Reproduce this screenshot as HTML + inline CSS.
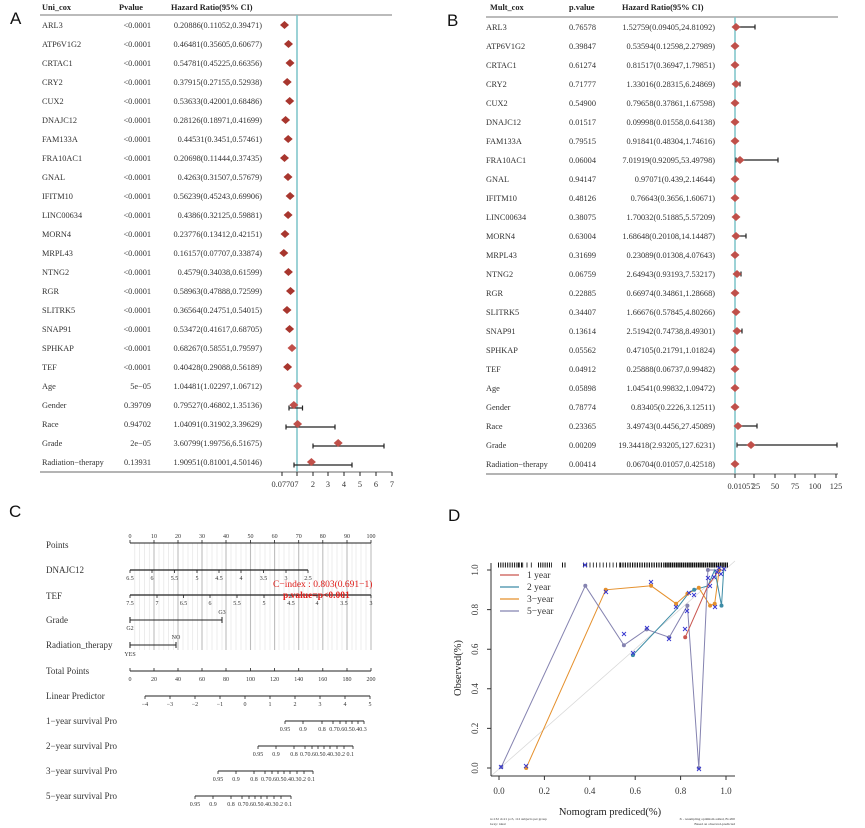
<!DOCTYPE html>
<html><head><meta charset="utf-8"><style>
html,body{margin:0;padding:0;background:#fff;}
svg{display:block;}
.t{font-family:"Liberation Serif",serif;font-size:8.3px;fill:#333;}
.h{font-family:"Liberation Serif",serif;font-size:8.3px;font-weight:bold;fill:#222;}
.L{font-family:"Liberation Sans",sans-serif;font-size:17px;fill:#111;}
.c{font-family:"Liberation Serif",serif;font-size:9px;fill:#333;}
.s{font-family:"Liberation Serif",serif;font-size:6px;fill:#333;}
</style></head><body>
<svg width="865" height="828" viewBox="0 0 865 828" xmlns="http://www.w3.org/2000/svg">
<defs>
<path id="d" d="M-4.5 0L0-4 4.5 0 0 4Z" fill="#c0504a"/>
<path id="dk" d="M-4.5 0L0-4 4.5 0 0 4Z" fill="#a8362e"/>
</defs>
<!-- ================= A ================= -->
<text class="L" x="10" y="24">A</text>
<text class="h" x="42" y="10">Uni_cox</text>
<text class="h" x="119" y="10">Pvalue</text>
<text class="h" x="171" y="10">Hazard Ratio(95% CI)</text>
<line x1="40" y1="15" x2="392" y2="15" stroke="#777" stroke-width="1"/>
<line x1="297" y1="15" x2="297" y2="472" stroke="#7cc4c8" stroke-width="1.5"/>
<g class="t">
<text x="42" y="28">ARL3</text><text x="42" y="47">ATP6V1G2</text><text x="42" y="66">CRTAC1</text><text x="42" y="85">CRY2</text><text x="42" y="104">CUX2</text><text x="42" y="123">DNAJC12</text><text x="42" y="142">FAM133A</text><text x="42" y="161">FRA10AC1</text><text x="42" y="180">GNAL</text><text x="42" y="199">IFITM10</text><text x="42" y="218">LINC00634</text><text x="42" y="237">MORN4</text><text x="42" y="256">MRPL43</text><text x="42" y="275">NTNG2</text><text x="42" y="294">RGR</text><text x="42" y="313">SLITRK5</text><text x="42" y="332">SNAP91</text><text x="42" y="351">SPHKAP</text><text x="42" y="370">TEF</text><text x="42" y="389">Age</text><text x="42" y="408">Gender</text><text x="42" y="427">Race</text><text x="42" y="446">Grade</text><text x="42" y="465">Radiation−therapy</text>
</g>
<g class="t" text-anchor="end">
<text x="151" y="28">&lt;0.0001</text><text x="151" y="47">&lt;0.0001</text><text x="151" y="66">&lt;0.0001</text><text x="151" y="85">&lt;0.0001</text><text x="151" y="104">&lt;0.0001</text><text x="151" y="123">&lt;0.0001</text><text x="151" y="142">&lt;0.0001</text><text x="151" y="161">&lt;0.0001</text><text x="151" y="180">&lt;0.0001</text><text x="151" y="199">&lt;0.0001</text><text x="151" y="218">&lt;0.0001</text><text x="151" y="237">&lt;0.0001</text><text x="151" y="256">&lt;0.0001</text><text x="151" y="275">&lt;0.0001</text><text x="151" y="294">&lt;0.0001</text><text x="151" y="313">&lt;0.0001</text><text x="151" y="332">&lt;0.0001</text><text x="151" y="351">&lt;0.0001</text><text x="151" y="370">&lt;0.0001</text><text x="151" y="389">5e−05</text><text x="151" y="408">0.39709</text><text x="151" y="427">0.94702</text><text x="151" y="446">2e−05</text><text x="151" y="465">0.13931</text>
</g>
<g class="t" text-anchor="end">
<text x="262" y="28">0.20886(0.11052,0.39471)</text><text x="262" y="47">0.46481(0.35605,0.60677)</text><text x="262" y="66">0.54781(0.45225,0.66356)</text><text x="262" y="85">0.37915(0.27155,0.52938)</text><text x="262" y="104">0.53633(0.42001,0.68486)</text><text x="262" y="123">0.28126(0.18971,0.41699)</text><text x="262" y="142">0.44531(0.3451,0.57461)</text><text x="262" y="161">0.20698(0.11444,0.37435)</text><text x="262" y="180">0.4263(0.31507,0.57679)</text><text x="262" y="199">0.56239(0.45243,0.69906)</text><text x="262" y="218">0.4386(0.32125,0.59881)</text><text x="262" y="237">0.23776(0.13412,0.42151)</text><text x="262" y="256">0.16157(0.07707,0.33874)</text><text x="262" y="275">0.4579(0.34038,0.61599)</text><text x="262" y="294">0.58963(0.47888,0.72599)</text><text x="262" y="313">0.36564(0.24751,0.54015)</text><text x="262" y="332">0.53472(0.41617,0.68705)</text><text x="262" y="351">0.68267(0.58551,0.79597)</text><text x="262" y="370">0.40428(0.29088,0.56189)</text><text x="262" y="389">1.04481(1.02297,1.06712)</text><text x="262" y="408">0.79527(0.46802,1.35136)</text><text x="262" y="427">1.04091(0.31902,3.39629)</text><text x="262" y="446">3.60799(1.99756,6.51675)</text><text x="262" y="465">1.90951(0.81001,4.50146)</text>
</g>
<g stroke="#222" stroke-width="1.2">
<line x1="289" y1="408" x2="302.5" y2="408"/><line x1="289" y1="405.5" x2="289" y2="410.5"/><line x1="302.5" y1="405.5" x2="302.5" y2="410.5"/>
<line x1="286" y1="427" x2="335" y2="427"/><line x1="286" y1="424.5" x2="286" y2="429.5"/><line x1="335" y1="424.5" x2="335" y2="429.5"/>
<line x1="313" y1="446" x2="384" y2="446"/><line x1="313" y1="443.5" x2="313" y2="448.5"/><line x1="384" y1="443.5" x2="384" y2="448.5"/>
<line x1="294" y1="465" x2="352" y2="465"/><line x1="294" y1="462.5" x2="294" y2="467.5"/><line x1="352" y1="462.5" x2="352" y2="467.5"/>
</g>
<use href="#dk" x="284.5" y="25"/><use href="#dk" x="288.5" y="44"/><use href="#dk" x="290" y="63"/><use href="#dk" x="287.2" y="82"/><use href="#dk" x="289.7" y="101"/><use href="#dk" x="285.6" y="120"/><use href="#dk" x="288.2" y="139"/><use href="#dk" x="284.5" y="158"/><use href="#dk" x="288" y="177"/><use href="#dk" x="290.1" y="196"/><use href="#dk" x="288.1" y="215"/><use href="#dk" x="285" y="234"/><use href="#dk" x="283.8" y="253"/><use href="#dk" x="288.4" y="272"/><use href="#dk" x="290.5" y="291"/><use href="#dk" x="287" y="310"/><use href="#dk" x="289.6" y="329"/><use href="#d" x="292" y="348"/><use href="#dk" x="287.6" y="367"/><use href="#d" x="297.7" y="386"/><use href="#d" x="293.8" y="405"/><use href="#d" x="297.6" y="424"/><use href="#d" x="338.2" y="443"/><use href="#d" x="311.4" y="462"/>
<line x1="40" y1="472" x2="392" y2="472" stroke="#888" stroke-width="1.2"/>
<g stroke="#222" stroke-width="1"><line x1="282" y1="472" x2="282" y2="476"/><line x1="297" y1="472" x2="297" y2="476"/><line x1="313" y1="472" x2="313" y2="476"/><line x1="328" y1="472" x2="328" y2="476"/><line x1="344" y1="472" x2="344" y2="476"/><line x1="360" y1="472" x2="360" y2="476"/><line x1="376" y1="472" x2="376" y2="476"/><line x1="392" y1="472" x2="392" y2="476"/></g>
<g class="t" text-anchor="middle"><text x="285" y="487">0.07707</text><text x="313" y="487">2</text><text x="328" y="487">3</text><text x="344" y="487">4</text><text x="360" y="487">5</text><text x="376" y="487">6</text><text x="392" y="487">7</text></g>

<!-- ================= B ================= -->
<text class="L" x="447" y="26">B</text>
<text class="h" x="490" y="10">Mult_cox</text>
<text class="h" x="569" y="10">p.value</text>
<text class="h" x="622" y="10">Hazard Ratio(95% CI)</text>
<line x1="486" y1="17" x2="838" y2="17" stroke="#777" stroke-width="1"/>
<line x1="735" y1="17" x2="735" y2="474" stroke="#7cc4c8" stroke-width="1.5"/>
<g class="t">
<text x="486" y="30">ARL3</text><text x="486" y="49">ATP6V1G2</text><text x="486" y="68">CRTAC1</text><text x="486" y="87">CRY2</text><text x="486" y="106">CUX2</text><text x="486" y="125">DNAJC12</text><text x="486" y="144">FAM133A</text><text x="486" y="163">FRA10AC1</text><text x="486" y="182">GNAL</text><text x="486" y="201">IFITM10</text><text x="486" y="220">LINC00634</text><text x="486" y="239">MORN4</text><text x="486" y="258">MRPL43</text><text x="486" y="277">NTNG2</text><text x="486" y="296">RGR</text><text x="486" y="315">SLITRK5</text><text x="486" y="334">SNAP91</text><text x="486" y="353">SPHKAP</text><text x="486" y="372">TEF</text><text x="486" y="391">Age</text><text x="486" y="410">Gender</text><text x="486" y="429">Race</text><text x="486" y="448">Grade</text><text x="486" y="467">Radiation−therapy</text>
</g>
<g class="t">
<text x="569" y="30">0.76578</text><text x="569" y="49">0.39847</text><text x="569" y="68">0.61274</text><text x="569" y="87">0.71777</text><text x="569" y="106">0.54900</text><text x="569" y="125">0.01517</text><text x="569" y="144">0.79515</text><text x="569" y="163">0.06004</text><text x="569" y="182">0.94147</text><text x="569" y="201">0.48126</text><text x="569" y="220">0.38075</text><text x="569" y="239">0.63004</text><text x="569" y="258">0.31699</text><text x="569" y="277">0.06759</text><text x="569" y="296">0.22885</text><text x="569" y="315">0.34407</text><text x="569" y="334">0.13614</text><text x="569" y="353">0.05562</text><text x="569" y="372">0.04912</text><text x="569" y="391">0.05898</text><text x="569" y="410">0.78774</text><text x="569" y="429">0.23365</text><text x="569" y="448">0.00209</text><text x="569" y="467">0.00414</text>
</g>
<g class="t" text-anchor="end">
<text x="715" y="30">1.52759(0.09405,24.81092)</text><text x="715" y="49">0.53594(0.12598,2.27989)</text><text x="715" y="68">0.81517(0.36947,1.79851)</text><text x="715" y="87">1.33016(0.28315,6.24869)</text><text x="715" y="106">0.79658(0.37861,1.67598)</text><text x="715" y="125">0.09998(0.01558,0.64138)</text><text x="715" y="144">0.91841(0.48304,1.74616)</text><text x="715" y="163">7.01919(0.92095,53.49798)</text><text x="715" y="182">0.97071(0.439,2.14644)</text><text x="715" y="201">0.76643(0.3656,1.60671)</text><text x="715" y="220">1.70032(0.51885,5.57209)</text><text x="715" y="239">1.68648(0.20108,14.14487)</text><text x="715" y="258">0.23089(0.01308,4.07643)</text><text x="715" y="277">2.64943(0.93193,7.53217)</text><text x="715" y="296">0.66974(0.34861,1.28668)</text><text x="715" y="315">1.66676(0.57845,4.80266)</text><text x="715" y="334">2.51942(0.74738,8.49301)</text><text x="715" y="353">0.47105(0.21791,1.01824)</text><text x="715" y="372">0.25888(0.06737,0.99482)</text><text x="715" y="391">1.04541(0.99832,1.09472)</text><text x="715" y="410">0.83405(0.2226,3.12511)</text><text x="715" y="429">3.49743(0.4456,27.45089)</text><text x="715" y="448">19.34418(2.93205,127.6231)</text><text x="715" y="467">0.06704(0.01057,0.42518)</text>
</g>
<g stroke="#222" stroke-width="1.2">
<line x1="735" y1="27" x2="755" y2="27"/><line x1="755" y1="24.5" x2="755" y2="29.5"/>
<line x1="735" y1="84" x2="740" y2="84"/><line x1="740" y1="81.5" x2="740" y2="86.5"/>
<line x1="736" y1="160" x2="778" y2="160"/><line x1="736" y1="157.5" x2="736" y2="162.5"/><line x1="778" y1="157.5" x2="778" y2="162.5"/>
<line x1="735" y1="236" x2="746" y2="236"/><line x1="746" y1="233.5" x2="746" y2="238.5"/>
<line x1="735" y1="274" x2="741" y2="274"/><line x1="741" y1="271.5" x2="741" y2="276.5"/>
<line x1="735" y1="331" x2="742" y2="331"/><line x1="742" y1="328.5" x2="742" y2="333.5"/>
<line x1="735" y1="426" x2="757" y2="426"/><line x1="757" y1="423.5" x2="757" y2="428.5"/>
<line x1="737" y1="445" x2="837" y2="445"/><line x1="737" y1="442.5" x2="737" y2="447.5"/><line x1="837" y1="442.5" x2="837" y2="447.5"/>
</g>
<use href="#d" x="736" y="27"/><use href="#d" x="735" y="46"/><use href="#d" x="735" y="65"/><use href="#d" x="736" y="84"/><use href="#d" x="735" y="103"/><use href="#d" x="735" y="122"/><use href="#d" x="735" y="141"/><use href="#d" x="740" y="160"/><use href="#d" x="735" y="179"/><use href="#d" x="735" y="198"/><use href="#d" x="736" y="217"/><use href="#d" x="736" y="236"/><use href="#d" x="735" y="255"/><use href="#d" x="737" y="274"/><use href="#d" x="735" y="293"/><use href="#d" x="736" y="312"/><use href="#d" x="737" y="331"/><use href="#d" x="735" y="350"/><use href="#d" x="735" y="369"/><use href="#d" x="735" y="388"/><use href="#d" x="735" y="407"/><use href="#d" x="738" y="426"/><use href="#d" x="751" y="445"/><use href="#d" x="735" y="464"/>
<line x1="486" y1="474" x2="838" y2="474" stroke="#888" stroke-width="1.2"/>
<g stroke="#222" stroke-width="1"><line x1="735" y1="474" x2="735" y2="478"/><line x1="754" y1="474" x2="754" y2="478"/><line x1="775" y1="474" x2="775" y2="478"/><line x1="795" y1="474" x2="795" y2="478"/><line x1="815" y1="474" x2="815" y2="478"/><line x1="836" y1="474" x2="836" y2="478"/></g>
<g class="t" text-anchor="middle"><text x="741" y="489">0.01057</text><text x="756" y="489">25</text><text x="775" y="489">50</text><text x="795" y="489">75</text><text x="815" y="489">100</text><text x="836" y="489">125</text></g>

<!-- ================= C ================= -->
<text class="L" x="9" y="517">C</text>
<g stroke="#e4e4e4" stroke-width="0.7">
<line x1="134.8" y1="543" x2="134.8" y2="650"/><line x1="139.6" y1="543" x2="139.6" y2="650"/><line x1="144.5" y1="543" x2="144.5" y2="650"/><line x1="149.3" y1="543" x2="149.3" y2="650"/>
<line x1="159" y1="543" x2="159" y2="650"/><line x1="163.8" y1="543" x2="163.8" y2="650"/><line x1="168.6" y1="543" x2="168.6" y2="650"/><line x1="173.4" y1="543" x2="173.4" y2="650"/>
<line x1="183" y1="543" x2="183" y2="650"/><line x1="188" y1="543" x2="188" y2="650"/><line x1="192.7" y1="543" x2="192.7" y2="650"/><line x1="197.5" y1="543" x2="197.5" y2="650"/>
<line x1="207" y1="543" x2="207" y2="650"/><line x1="212" y1="543" x2="212" y2="650"/><line x1="217" y1="543" x2="217" y2="650"/><line x1="222" y1="543" x2="222" y2="650"/>
<line x1="231" y1="543" x2="231" y2="650"/><line x1="236" y1="543" x2="236" y2="650"/><line x1="241" y1="543" x2="241" y2="650"/><line x1="246" y1="543" x2="246" y2="650"/>
<line x1="255" y1="543" x2="255" y2="650"/><line x1="260" y1="543" x2="260" y2="650"/><line x1="265" y1="543" x2="265" y2="650"/><line x1="270" y1="543" x2="270" y2="650"/>
<line x1="279" y1="543" x2="279" y2="650"/><line x1="284" y1="543" x2="284" y2="650"/><line x1="289" y1="543" x2="289" y2="650"/><line x1="294" y1="543" x2="294" y2="650"/>
<line x1="303" y1="543" x2="303" y2="650"/><line x1="308" y1="543" x2="308" y2="650"/><line x1="313" y1="543" x2="313" y2="650"/><line x1="318" y1="543" x2="318" y2="650"/>
<line x1="328" y1="543" x2="328" y2="650"/><line x1="332" y1="543" x2="332" y2="650"/><line x1="337" y1="543" x2="337" y2="650"/><line x1="342" y1="543" x2="342" y2="650"/>
<line x1="352" y1="543" x2="352" y2="650"/><line x1="356" y1="543" x2="356" y2="650"/><line x1="361" y1="543" x2="361" y2="650"/><line x1="366" y1="543" x2="366" y2="650"/>
</g>
<g stroke="#bdbdbd" stroke-width="1.1">
<line x1="154" y1="543" x2="154" y2="650"/><line x1="178" y1="543" x2="178" y2="650"/><line x1="202" y1="543" x2="202" y2="650"/><line x1="226" y1="543" x2="226" y2="650"/><line x1="250.5" y1="543" x2="250.5" y2="650"/><line x1="274.6" y1="543" x2="274.6" y2="650"/><line x1="298.7" y1="543" x2="298.7" y2="650"/><line x1="322.8" y1="543" x2="322.8" y2="650"/><line x1="347" y1="543" x2="347" y2="650"/><line x1="371" y1="543" x2="371" y2="650"/>
</g>
<g class="c">
<text x="46" y="548">Points</text><text x="46" y="573">DNAJC12</text><text x="46" y="599">TEF</text><text x="46" y="623">Grade</text><text x="46" y="648">Radiation_therapy</text><text x="46" y="674">Total Points</text><text x="46" y="699">Linear Predictor</text><text x="46" y="724">1−year survival Pro</text><text x="46" y="749">2−year survival Pro</text><text x="46" y="774">3−year survival Pro</text><text x="46" y="799">5−year survival Pro</text>
</g>
<g stroke="#222" stroke-width="1">
<line x1="130" y1="543" x2="371" y2="543"/>
<line x1="130" y1="570" x2="308" y2="570" stroke-width="1.3"/>
<line x1="130" y1="595" x2="371" y2="595" stroke-width="1.3"/>
<line x1="130" y1="620" x2="222" y2="620"/><line x1="130" y1="617" x2="130" y2="623"/><line x1="222" y1="617" x2="222" y2="623"/>
<line x1="130" y1="645" x2="176" y2="645"/><line x1="130" y1="642" x2="130" y2="648"/><line x1="176" y1="642" x2="176" y2="648"/>
<line x1="130" y1="671" x2="371" y2="671"/>
<line x1="145" y1="696" x2="370" y2="696"/>
<line x1="285" y1="721" x2="364" y2="721"/>
<line x1="258" y1="746" x2="353" y2="746"/>
<line x1="218" y1="771" x2="313" y2="771"/>
<line x1="195" y1="796" x2="291" y2="796"/>
</g>
<g stroke="#222" stroke-width="0.8">
<path d="M130 543v-3M154 543v-3M178 543v-3M202 543v-3M226 543v-3M250.5 543v-3M274.6 543v-3M298.7 543v-3M322.8 543v-3M347 543v-3M371 543v-3"/>
<path d="M130 570v3M152 570v3M174.5 570v3M197 570v3M219 570v3M241 570v3M263.5 570v3M286 570v3M308 570v3"/>
<path d="M130 595v3M157 595v3M183.5 595v3M210 595v3M237 595v3M264 595v3M291 595v3M317 595v3M344 595v3M371 595v3"/>
<path d="M130 671v-3M154 671v-3M178 671v-3M202 671v-3M226 671v-3M250.5 671v-3M274.6 671v-3M298.7 671v-3M322.8 671v-3M347 671v-3M371 671v-3"/>
<path d="M145 696v3M170 696v3M195 696v3M220 696v3M245 696v3M270 696v3M295 696v3M320 696v3M345 696v3M370 696v3"/>
<path d="M285 721v3M303 721v3M322 721v3M333 721v3M340 721v3M346 721v3M352 721v3M358 721v3M364 721v3"/>
<path d="M258 746v3M276 746v3M294 746v3M305 746v3M312 746v3M318 746v3M324 746v3M330 746v3M337 746v3M344 746v3M353 746v3"/>
<path d="M218 771v3M236 771v3M254 771v3M265 771v3M272 771v3M278 771v3M284 771v3M290 771v3M297 771v3M304 771v3M313 771v3"/>
<path d="M195 796v3M213 796v3M231 796v3M242 796v3M249 796v3M255 796v3M261 796v3M267 796v3M274 796v3M281 796v3M291 796v3"/>
</g>
<g class="s" text-anchor="middle">
<text x="130" y="538">0</text><text x="154" y="538">10</text><text x="178" y="538">20</text><text x="202" y="538">30</text><text x="226" y="538">40</text><text x="250.5" y="538">50</text><text x="274.6" y="538">60</text><text x="298.7" y="538">70</text><text x="322.8" y="538">80</text><text x="347" y="538">90</text><text x="371" y="538">100</text>
<text x="130" y="580">6.5</text><text x="152" y="580">6</text><text x="174.5" y="580">5.5</text><text x="197" y="580">5</text><text x="219" y="580">4.5</text><text x="241" y="580">4</text><text x="263.5" y="580">3.5</text><text x="286" y="580">3</text><text x="308" y="580">2.5</text>
<text x="130" y="605">7.5</text><text x="157" y="605">7</text><text x="183.5" y="605">6.5</text><text x="210" y="605">6</text><text x="237" y="605">5.5</text><text x="264" y="605">5</text><text x="291" y="605">4.5</text><text x="317" y="605">4</text><text x="344" y="605">3.5</text><text x="371" y="605">3</text>
<text x="222" y="614">G3</text><text x="130" y="630">G2</text><text x="176" y="639">NO</text><text x="130" y="656">YES</text>
<text x="130" y="681">0</text><text x="154" y="681">20</text><text x="178" y="681">40</text><text x="202" y="681">60</text><text x="226" y="681">80</text><text x="250.5" y="681">100</text><text x="274.6" y="681">120</text><text x="298.7" y="681">140</text><text x="322.8" y="681">160</text><text x="347" y="681">180</text><text x="371" y="681">200</text>
<text x="145" y="706">−4</text><text x="170" y="706">−3</text><text x="195" y="706">−2</text><text x="220" y="706">−1</text><text x="245" y="706">0</text><text x="270" y="706">1</text><text x="295" y="706">2</text><text x="320" y="706">3</text><text x="345" y="706">4</text><text x="370" y="706">5</text>
<text x="285" y="731">0.95</text><text x="303" y="731">0.9</text><text x="322" y="731">0.8</text><text x="348" y="731">0.70.60.50.40.3</text>
<text x="258" y="756">0.95</text><text x="276" y="756">0.9</text><text x="294" y="756">0.8</text><text x="327" y="756">0.70.60.50.40.30.2 0.1</text>
<text x="218" y="781">0.95</text><text x="236" y="781">0.9</text><text x="254" y="781">0.8</text><text x="288" y="781">0.70.60.50.40.30.2 0.1</text>
<text x="195" y="806">0.95</text><text x="213" y="806">0.9</text><text x="231" y="806">0.8</text><text x="265" y="806">0.70.60.50.40.30.2 0.1</text>
</g>
<text x="273" y="587" font-family="Liberation Serif,serif" font-size="9.5" fill="#e0201c">C−index : 0.803(0.691−1)</text>
<text x="283" y="598" font-family="Liberation Serif,serif" font-size="9.5" font-weight="bold" fill="#e0201c">p.value=p&lt;0.001</text>

<!-- ================= D ================= -->
<text class="L" x="448" y="521">D</text>
<line x1="491" y1="776" x2="735" y2="561" stroke="#d8d8d8" stroke-width="0.8"/>
<g stroke="#111" stroke-width="5">
<line x1="498" y1="565" x2="522" y2="565" stroke-dasharray="1 1.3"/>
<line x1="518" y1="565" x2="533" y2="565" stroke-dasharray="0.8 3.5"/>
<line x1="538" y1="565" x2="552" y2="565" stroke-dasharray="1 1.2"/>
<line x1="562" y1="565" x2="566" y2="565" stroke-dasharray="1 1.5"/>
<line x1="583" y1="565" x2="620" y2="565" stroke-dasharray="0.8 2.5"/>
<line x1="620" y1="565" x2="665" y2="565" stroke-dasharray="1.2 1.2"/>
<line x1="665" y1="565" x2="728" y2="565" stroke-dasharray="1.6 0.6"/>
</g>
<g stroke="#333" stroke-width="1">
<line x1="491" y1="563" x2="491" y2="776"/><line x1="491" y1="776" x2="735" y2="776"/>
<path d="M491 768h-4M491 728.4h-4M491 688.8h-4M491 649.2h-4M491 609.6h-4M491 570h-4"/>
<path d="M499 776v4M544.4 776v4M589.8 776v4M635.2 776v4M680.6 776v4M726 776v4"/>
</g>
<g class="c" text-anchor="middle" font-size="8">
<text x="499" y="794">0.0</text><text x="544.4" y="794">0.2</text><text x="589.8" y="794">0.4</text><text x="635.2" y="794">0.6</text><text x="680.6" y="794">0.8</text><text x="726" y="794">1.0</text>
<text transform="translate(478,768) rotate(-90)">0.0</text><text transform="translate(478,728.4) rotate(-90)">0.2</text><text transform="translate(478,688.8) rotate(-90)">0.4</text><text transform="translate(478,649.2) rotate(-90)">0.6</text><text transform="translate(478,609.6) rotate(-90)">0.8</text><text transform="translate(478,570) rotate(-90)">1.0</text>
</g>
<text x="610" y="815" text-anchor="middle" font-family="Liberation Serif,serif" font-size="10.5" fill="#222">Nomogram  prediced(%)</text>
<text transform="translate(461,668) rotate(-90)" text-anchor="middle" font-family="Liberation Serif,serif" font-size="10.5" fill="#222">Observed(%)</text>
<text x="490" y="820" font-family="Liberation Serif,serif" font-size="3.5" fill="#333">n=132 d=21 p=5, 112 subjects per group</text>
<text x="490" y="825" font-family="Liberation Serif,serif" font-size="3.5" fill="#333">Gray: ideal</text>
<text x="735" y="820" text-anchor="end" font-family="Liberation Serif,serif" font-size="3.5" fill="#333">X - resampling optimism added, B=200</text>
<text x="735" y="825" text-anchor="end" font-family="Liberation Serif,serif" font-size="3.5" fill="#333">Based on observed-predicted</text>
<g stroke-width="1.2">
<line x1="500" y1="575" x2="519" y2="575" stroke="#c9564f"/>
<line x1="500" y1="587" x2="519" y2="587" stroke="#3d8ca6"/>
<line x1="500" y1="599" x2="519" y2="599" stroke="#e5902c"/>
<line x1="500" y1="611" x2="519" y2="611" stroke="#8583b0"/>
</g>
<g font-family="Liberation Serif,serif" font-size="9.5" fill="#333">
<text x="527" y="578">1  year</text><text x="527" y="590">2  year</text><text x="527" y="602">3−year</text><text x="527" y="614">5−year</text>
</g>
<g fill="none" stroke-width="1">
<polyline stroke="#e5902c" points="526.2,768 605.7,589.8 651.1,585.8 676.1,603.7 687.4,593.8 698.8,587.8 710.1,605.6 714.7,603.7 719.2,570 723.7,570"/>
<polyline stroke="#8583b0" points="501.3,767 585.3,585.8 623.9,645.2 646.6,629.4 669.3,637.3 687.4,605.6 698.8,768 707.9,570 714.7,570 721.5,570"/>
<polyline stroke="#3d8ca6" points="632.9,655.1 676.1,609.6 689.7,591.8 694.2,589.8 707.9,585.8 714.7,570 721.5,605.6 723.7,570"/>
<polyline stroke="#c9564f" points="685.2,637.3 707.9,585.8 719.2,570"/>
</g>
<g fill="#e5902c"><circle cx="526.2" cy="768" r="2"/><circle cx="605.7" cy="589.8" r="2"/><circle cx="651.1" cy="585.8" r="2"/><circle cx="676.1" cy="603.7" r="2"/><circle cx="687.4" cy="593.8" r="2"/><circle cx="698.8" cy="587.8" r="2"/><circle cx="710.1" cy="605.6" r="2"/><circle cx="714.7" cy="603.7" r="2"/><circle cx="719.2" cy="570" r="2"/></g>
<g fill="#8583b0"><circle cx="501.3" cy="767" r="2"/><circle cx="585.3" cy="585.8" r="2"/><circle cx="623.9" cy="645.2" r="2"/><circle cx="646.6" cy="629.4" r="2"/><circle cx="669.3" cy="637.3" r="2"/><circle cx="687.4" cy="605.6" r="2"/><circle cx="698.8" cy="768" r="2"/><circle cx="707.9" cy="570" r="2"/></g>
<g fill="#3d8ca6"><circle cx="632.9" cy="655.1" r="2"/><circle cx="694.2" cy="589.8" r="2"/><circle cx="721.5" cy="605.6" r="2"/></g>
<g fill="#c9564f"><circle cx="685.2" cy="637.3" r="2"/></g>
<g stroke="#3535d0" stroke-width="0.9" fill="none">
<path d="M499 765l4 4M503 765l-4 4M524 764l4 4M528 764l-4 4M583 563l4 4M587 563l-4 4M604 590l4 4M608 590l-4 4M622 632l4 4M626 632l-4 4M631 651l4 4M635 651l-4 4M645 626l4 4M649 626l-4 4M649 580l4 4M653 580l-4 4M667 637l4 4M671 637l-4 4M674 605l4 4M678 605l-4 4M683 627l4 4M687 627l-4 4M685 609l4 4M689 609l-4 4M687 591l4 4M691 591l-4 4M692 593l4 4M696 593l-4 4M697 767l4 4M701 767l-4 4M706 576l4 4M710 576l-4 4M708 584l4 4M712 584l-4 4M712 575l4 4M716 575l-4 4M713 605l4 4M717 605l-4 4M715 570l4 4M719 570l-4 4M717 566l4 4M721 566l-4 4M719 572l4 4M723 572l-4 4M722 567l4 4M726 567l-4 4"/>
</g>
</svg>
</body></html>
